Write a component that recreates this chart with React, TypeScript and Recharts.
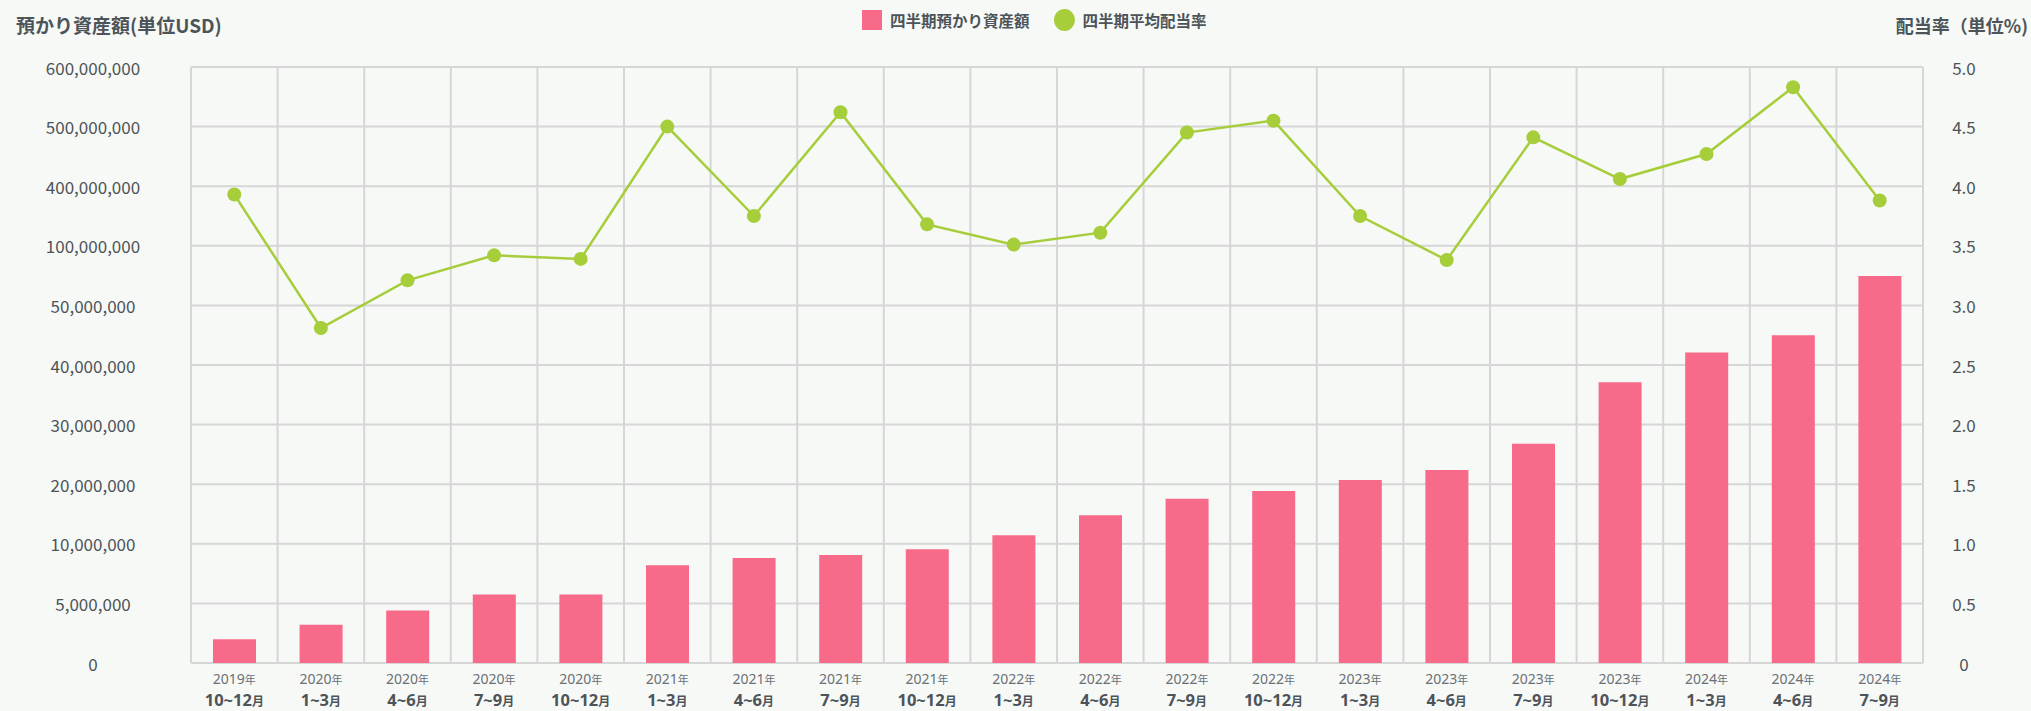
import { ComposedChart, Bar, Line, XAxis, YAxis, CartesianGrid } from 'recharts';

const YEARS = [
  '2019', '2020', '2020', '2020', '2020', '2021', '2021', '2021', '2021', '2022',
  '2022', '2022', '2022', '2023', '2023', '2023', '2023', '2024', '2024', '2024',
];
const MONTHS = [
  '10~12', '1~3', '4~6', '7~9', '10~12', '1~3', '4~6', '7~9', '10~12', '1~3',
  '4~6', '7~9', '10~12', '1~3', '4~6', '7~9', '10~12', '1~3', '4~6', '7~9',
];
const ASSETS = [
  2000000, 3200000, 4400000, 5750000, 5750000, 8200000, 8800000, 9050000, 9550000, 11450000,
  14800000, 17550000, 18850000, 20700000, 22400000, 26800000, 37100000, 42100000, 45000000, 74600000,
];
const RATES = [
  3.93, 2.81, 3.21, 3.42, 3.39, 4.5, 3.75, 4.62, 3.68, 3.51,
  3.61, 4.45, 4.55, 3.75, 3.38, 4.41, 4.06, 4.27, 4.83, 3.88,
];
// left axis is not linear: ticks are evenly spaced
const ASSET_TICKS = [0, 5000000, 10000000, 20000000, 30000000, 40000000, 50000000, 100000000, 400000000, 500000000, 600000000];
const RATE_TICKS = [0, 0.5, 1, 1.5, 2, 2.5, 3, 3.5, 4, 4.5, 5];

const W = 2031;
const H = 711;
const PINK = '#f76a89';
const GREEN = '#a6cd3a';
const TEXT = '#4d5459';
const GRID = '#d5d6d5';
const FONT = "'Noto Sans CJK JP', 'Noto Sans', sans-serif";
const LATIN = "'Noto Sans', 'Noto Sans CJK JP', sans-serif";

function toStep(v: number) {
  for (let i = 0; i < ASSET_TICKS.length - 1; i++) {
    const a = ASSET_TICKS[i];
    const b = ASSET_TICKS[i + 1];
    if (v <= b) return i + (v - a) / (b - a);
  }
  return ASSET_TICKS.length - 1;
}

const data = YEARS.map((year, i) => ({
  name: `${year}年${MONTHS[i]}月`,
  year,
  month: MONTHS[i],
  assets: ASSETS[i],
  assetStep: toStep(ASSETS[i]),
  rate: RATES[i],
}));

function XTick({ x, y, payload }: any) {
  const d = data[payload.index];
  return (
    <g>
      <text x={x} y={y + 21} textAnchor="middle" fontFamily={LATIN} fontSize={14} fill="#6a7075">
        {d.year}
        <tspan fontSize={11}>年</tspan>
      </text>
      <text x={x} y={y + 43} textAnchor="middle" fontFamily={LATIN} fontSize={16.5} fontWeight={700} fill={TEXT}>
        {d.month}
        <tspan fontSize={12}>月</tspan>
      </text>
    </g>
  );
}

function LeftTick({ y, payload }: any) {
  return (
    <text x={93} y={y} textAnchor="middle" dominantBaseline="central" fontSize={17} fill={TEXT} fontFamily={FONT}>
      {ASSET_TICKS[payload.value].toLocaleString('en-US')}
    </text>
  );
}

function RightTick({ y, payload }: any) {
  const v = payload.value as number;
  return (
    <text x={1964} y={y} textAnchor="middle" dominantBaseline="central" fontSize={17} fill={TEXT} fontFamily={FONT}>
      {v === 0 ? '0' : v.toFixed(1)}
    </text>
  );
}

function LegendBar() {
  const item = { display: 'flex', alignItems: 'center', gap: 8 } as const;
  return (
    <div
      style={{
        position: 'absolute',
        top: 9,
        left: 862,
        display: 'flex',
        gap: 24,
        fontFamily: FONT,
        fontSize: 15.5,
        fontWeight: 700,
        color: TEXT,
      }}
    >
      <div style={item}>
        <span style={{ width: 20, height: 20, background: PINK, display: 'inline-block' }} />
        <span>四半期預かり資産額</span>
      </div>
      <div style={item}>
        <span style={{ width: 21, height: 22, borderRadius: '50%', background: GREEN, display: 'inline-block' }} />
        <span>四半期平均配当率</span>
      </div>
    </div>
  );
}

export default function App() {
  return (
    <div style={{ position: 'absolute', left: 0, top: 0, width: W, height: H, background: '#f7f9f7', overflow: 'hidden' }}>
      <div style={{ position: 'absolute', left: 16, top: 11, fontFamily: FONT, fontSize: 19, fontWeight: 700, color: TEXT }}>
        預かり資産額(単位USD)
      </div>
      <div style={{ position: 'absolute', right: 3, top: 12, fontFamily: FONT, fontSize: 18, fontWeight: 700, color: TEXT }}>
        配当率（単位%)
      </div>
      <LegendBar />
      <ComposedChart width={W} height={H} data={data} margin={{ top: 67, right: 0, bottom: 0, left: 0 }}>
        <CartesianGrid
          stroke={GRID}
          strokeWidth={2}
          verticalCoordinatesGenerator={({ offset }: any) =>
            data.map((_, i) => offset.left + (i * offset.width) / data.length).concat(offset.left + offset.width)
          }
        />
        <XAxis dataKey="name" height={48} axisLine={false} tickLine={false} tickSize={0} tickMargin={0} interval={0} tick={<XTick />} />
        <YAxis
          type="number"
          width={191}
          domain={[0, ASSET_TICKS.length - 1]}
          ticks={ASSET_TICKS.map((_, i) => i)}
          axisLine={false}
          tickLine={false}
          tick={<LeftTick />}
        />
        <YAxis
          yAxisId="right"
          orientation="right"
          type="number"
          width={108}
          domain={[0, 5]}
          ticks={RATE_TICKS}
          axisLine={false}
          tickLine={false}
          tick={<RightTick />}
        />
        <Bar dataKey="assetStep" fill={PINK} barSize={43} isAnimationActive={false} />
        <Line
          yAxisId="right"
          type="linear"
          dataKey="rate"
          stroke={GREEN}
          strokeWidth={2.5}
          dot={{ r: 7, fill: GREEN, stroke: 'none' }}
          activeDot={false}
          isAnimationActive={false}
        />
      </ComposedChart>
    </div>
  );
}
